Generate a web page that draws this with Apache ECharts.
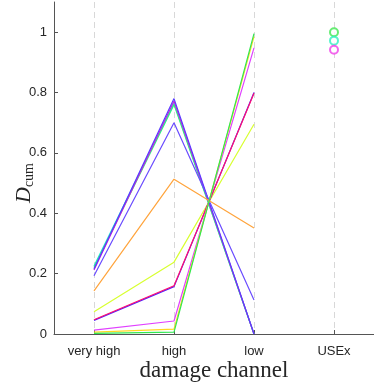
<!DOCTYPE html>
<html>
<head>
<meta charset="utf-8">
<script src="https://cdn.jsdelivr.net/npm/echarts@6/dist/echarts.min.js"></script>
<style>
  html, body { margin: 0; padding: 0; background: #fff; }
  #chart { width: 374px; height: 383px; }
</style>
</head>
<body>
<div id="chart"></div>
<script>
  // categories on the x axis
  const channels = ['very high', 'high', 'low', 'USEx']
  const yTicks = [0, 0.2, 0.4, 0.6, 0.8, 1]

  // D_cum per damage channel (very high, high, low)
  const green = [0.002, 0.006, 0.995]
  const yellow = [0.006, 0.016, 0.985]
  const magenta = [0.013, 0.043, 0.948]
  const violet = [0.045, 0.157, 0.800]
  const red = [0.047, 0.160, 0.798]
  const lime = [0.074, 0.238, 0.695]
  const orange = [0.143, 0.513, 0.351]
  const blue = [0.193, 0.700, 0.113]
  const blue2 = [0.215, 0.780, 0.0]
  const purple = [0.212, 0.772, 0.0]
  const green2 = [0.220, 0.760, 0.0]
  const cyan = [0.225, 0.765, 0.0]

  // USEx markers
  const usexNames = ['green', 'cyan', 'magenta']
  const usexValues = [1.0, 0.972, 0.942]

  const lineSets = [
    { name: 'cyan', data: cyan, color: '#20e8d8' },
    { name: 'green2', data: green2, color: '#30f080' },
    { name: 'purple', data: purple, color: '#d020d8' },
    { name: 'blue2', data: blue2, color: '#5a3cff' },
    { name: 'blue', data: blue, color: '#6a4cff' },
    { name: 'orange', data: orange, color: '#ffa43c' },
    { name: 'lime', data: lime, color: '#d8ff30' },
    { name: 'violet', data: violet, color: '#5020ff' },
    { name: 'red', data: red, color: '#ff1070' },
    { name: 'magenta', data: magenta, color: '#e040ff' },
    { name: 'yellow', data: yellow, color: '#ffd820' },
    { name: 'green', data: green, color: '#30e850' }
  ]
  const usexColors = { green: '#40e850', cyan: '#30f0c0', magenta: '#f040e8' }

  const series = lineSets.map(function(s) {
    return {
      name: s.name,
      type: 'line',
      data: s.data.concat([null]),
      showSymbol: false,
      animation: false,
      lineStyle: { color: s.color, width: 1.2 },
      itemStyle: { color: s.color }
    }
  })
  usexNames.forEach(function(n, i) {
    const d = [null, null, null, usexValues[i]]
    series.push({
      name: 'usex-' + n,
      type: 'scatter',
      data: d,
      symbol: 'emptyCircle',
      symbolSize: 8,
      animation: false,
      itemStyle: { color: usexColors[n], borderColor: usexColors[n], borderWidth: 1.2 }
    })
  })

  const chart = echarts.init(document.getElementById('chart'))
  chart.setOption({
    backgroundColor: '#fff',
    grid: { left: 54, right: 0, top: 2, bottom: 49, outerBoundsMode: 'none', containLabel: false },
    xAxis: {
      type: 'category',
      data: channels,
      boundaryGap: true,
      name: 'damage channel',
      nameLocation: 'middle',
      nameGap: 25,
      nameMoveOverlap: false,
      nameTextStyle: { fontFamily: 'Liberation Serif', fontSize: 23, color: '#262626' },
      axisLine: { lineStyle: { color: '#555', width: 1 } },
      axisTick: { show: true, inside: true, length: 4, alignWithLabel: true, lineStyle: { color: '#555' } },
      axisLabel: { fontFamily: 'Liberation Sans', fontSize: 13, color: '#262626', margin: 11 },
      splitLine: {
        show: true,
        alignWithLabel: true,
        lineStyle: { color: '#d8d8d8', type: [6, 4], width: 1 }
      }
    },
    yAxis: {
      type: 'value',
      min: 0,
      max: 1.1,
      interval: 0.2,
      name: '{d|D}{s|cum}',
      nameLocation: 'middle',
      nameGap: 18,
      nameMoveOverlap: false,
      nameRotate: 90,
      nameTextStyle: {
        padding: [0, 30, 0, 0],
        rich: {
          d: { fontFamily: 'Liberation Serif', fontStyle: 'italic', fontSize: 22, color: '#262626' },
          s: { fontFamily: 'Liberation Serif', fontSize: 14, color: '#262626', padding: [10, 0, 0, 0] }
        }
      },
      axisLine: { show: true, lineStyle: { color: '#555', width: 1 } },
      axisTick: { show: true, inside: true, length: 4, lineStyle: { color: '#555' } },
      axisLabel: {
        fontFamily: 'Liberation Sans', fontSize: 13, color: '#262626', margin: 7,
        showMaxLabel: false,
        formatter: function(v) {
          return yTicks.indexOf(Math.round(v * 10) / 10) >= 0 ? String(Math.round(v * 10) / 10) : ''
        }
      },
      splitLine: { show: false }
    },
    series: series
  })
</script>
</body>
</html>
